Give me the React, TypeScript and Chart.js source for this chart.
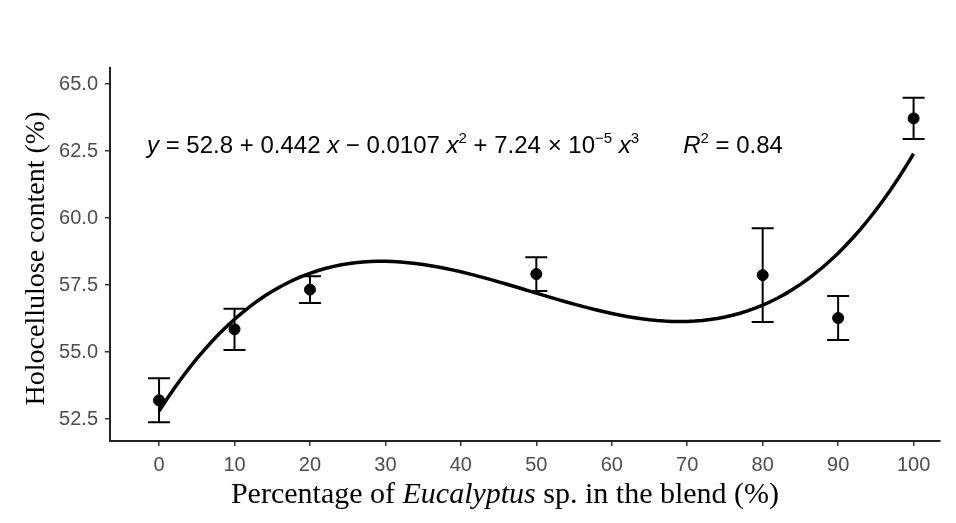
import { useEffect, useRef } from "react";
import { Chart, registerables } from "chart.js";

Chart.register(...registerables);

// Blend composition (% Eucalyptus) and measured holocellulose content
const blendPercent = [0, 10, 20, 50, 80, 90, 100];
const holocelluloseMean = [53.2, 55.85, 57.33, 57.91, 57.87, 56.27, 63.72];
const holocelluloseSd = [0.82, 0.77, 0.5, 0.63, 1.75, 0.82, 0.77];

// Cubic regression: y = b0 + b1 x + b2 x^2 + b3 x^3
const fitCoefficients = [52.8, 0.442, -0.0107, 7.24e-5];
const fitR2 = 0.84;

const xTicks = [0, 10, 20, 30, 40, 50, 60, 70, 80, 90, 100];
const yTicks = [52.5, 55.0, 57.5, 60.0, 62.5, 65.0];

const SANS = "'Liberation Sans', Arial, sans-serif";
const SERIF = "'Liberation Serif', 'Times New Roman', serif";

type Run = { text: string; font?: string; dy?: number; gap?: number };

function drawRuns(ctx: CanvasRenderingContext2D, runs: Run[], x: number, y: number, align: "left" | "center") {
  const width = (r: Run) => {
    if (r.gap !== undefined) return r.gap;
    ctx.font = r.font as string;
    return ctx.measureText(r.text).width;
  };
  let total = 0;
  for (const r of runs) total += width(r);
  let cx = align === "center" ? x - total / 2 : x;
  ctx.textAlign = "left";
  ctx.textBaseline = "alphabetic";
  for (const r of runs) {
    const w = width(r);
    if (r.gap === undefined) {
      ctx.font = r.font as string;
      ctx.fillText(r.text, cx, y + (r.dy || 0));
    }
    cx += w;
  }
}

const errorBarPlugin = {
  id: "errorBars",
  beforeDatasetsDraw(chart: any) {
    const { ctx, scales } = chart;
    const xs = scales.x;
    const ys = scales.y;
    ctx.save();
    ctx.strokeStyle = "#000";
    ctx.lineWidth = 2;
    const cap = 11;
    blendPercent.forEach((bx, i) => {
      const px = xs.getPixelForValue(bx);
      const top = ys.getPixelForValue(holocelluloseMean[i] + holocelluloseSd[i]);
      const bot = ys.getPixelForValue(holocelluloseMean[i] - holocelluloseSd[i]);
      ctx.beginPath();
      ctx.moveTo(px, top);
      ctx.lineTo(px, bot);
      ctx.moveTo(px - cap, top);
      ctx.lineTo(px + cap, top);
      ctx.moveTo(px - cap, bot);
      ctx.lineTo(px + cap, bot);
      ctx.stroke();
    });
    ctx.restore();
  },
};

const annotationPlugin = {
  id: "textAnnotations",
  afterDraw(chart: any) {
    const { ctx, chartArea } = chart;
    ctx.save();
    ctx.fillStyle = "#000";

    // Regression equation
    const f = `24px ${SANS}`;
    const fi = `italic 24px ${SANS}`;
    const fs = `15px ${SANS}`;
    const [b0, b1, b2, b3] = fitCoefficients;
    const mant = (b3 * 1e5).toFixed(2);
    drawRuns(
      ctx,
      [
        { text: "y", font: fi },
        { text: ` = ${b0} + ${b1} `, font: f },
        { text: "x", font: fi },
        { text: ` \u2212 ${Math.abs(b2)} `, font: f },
        { text: "x", font: fi },
        { text: "2", font: fs, dy: -10 },
        { text: ` + ${mant} \u00d7 10`, font: f },
        { text: "\u22125", font: fs, dy: -10 },
        { text: " ", font: f },
        { text: "x", font: fi },
        { text: "3", font: fs, dy: -10 },
        { text: "", gap: 44 },
        { text: "R", font: fi },
        { text: "2", font: fs, dy: -10 },
        { text: ` = ${fitR2}`, font: f },
      ],
      147,
      153,
      "left"
    );

    // X axis title with italic genus name
    const tf = `30px ${SERIF}`;
    const tfi = `italic 30px ${SERIF}`;
    drawRuns(
      ctx,
      [
        { text: "Percentage of ", font: tf },
        { text: "Eucalyptus", font: tfi },
        { text: " sp. in the blend (%)", font: tf },
      ],
      505,
      503,
      "center"
    );

    // Y axis title
    ctx.translate(44, (chartArea.top + chartArea.bottom) / 2 + 4);
    ctx.rotate(-Math.PI / 2);
    drawRuns(ctx, [{ text: "Holocellulose content (%)", font: `28px ${SERIF}` }], 0, 0, "center");
    ctx.restore();
  },
};

export default function App() {
  const canvasRef = useRef<HTMLCanvasElement>(null);

  useEffect(() => {
    const canvas = canvasRef.current;
    if (!canvas) return;

    const curve: { x: number; y: number }[] = [];
    for (let x = 0; x <= 100; x += 1) {
      const y = fitCoefficients.reduce((s, c, k) => s + c * Math.pow(x, k), 0);
      curve.push({ x, y });
    }

    const chart = new Chart(canvas, {
      type: "scatter",
      data: {
        datasets: [
          {
            label: "fit",
            data: curve,
            showLine: true,
            borderColor: "#000",
            borderWidth: 3.5,
            pointRadius: 0,
            tension: 0,
            order: 2,
          } as any,
          {
            label: "mean",
            data: blendPercent.map((x, i) => ({ x, y: holocelluloseMean[i] })),
            backgroundColor: "#000",
            borderColor: "#000",
            pointRadius: 5.5,
            pointHoverRadius: 5.5,
            order: 1,
          },
        ],
      },
      options: {
        responsive: false,
        animation: false,
        layout: { padding: { top: 68, right: 16, bottom: 0, left: 0 } },
        plugins: {
          legend: { display: false },
          tooltip: { enabled: false },
        },
        scales: {
          x: {
            type: "linear",
            min: -6.5,
            max: 103.5,
            afterBuildTicks: (axis: any) => {
              axis.ticks = xTicks.map((v) => ({ value: v }));
            },
            afterFit: (scale: any) => {
              scale.height = 82;
            },
            ticks: {
              color: "#4d4d4d",
              font: { family: SANS, size: 20 },
              padding: 7,
              maxRotation: 0,
              callback: (v: any) => String(v),
            },
            grid: { drawOnChartArea: false, drawTicks: true, tickLength: 5, color: "#333", lineWidth: 1.5 },
            border: { display: true, color: "#222", width: 2 },
          },
          y: {
            type: "linear",
            min: 51.68,
            max: 65.6,
            afterBuildTicks: (axis: any) => {
              axis.ticks = yTicks.map((v) => ({ value: v }));
            },
            afterFit: (scale: any) => {
              scale.width = 110;
            },
            ticks: {
              color: "#4d4d4d",
              font: { family: SANS, size: 20 },
              padding: 7,
              callback: (v: any) => Number(v).toFixed(1),
            },
            grid: { drawOnChartArea: false, drawTicks: true, tickLength: 5, color: "#333", lineWidth: 1.5 },
            border: { display: true, color: "#222", width: 2 },
          },
        },
      },
      plugins: [errorBarPlugin, annotationPlugin],
    });

    return () => chart.destroy();
  }, []);

  return (
    <div style={{ position: "absolute", left: 0, top: 0, width: 956, height: 523, background: "#fff" }}>
      <canvas ref={canvasRef} width={956} height={523} style={{ display: "block" }} />
    </div>
  );
}
